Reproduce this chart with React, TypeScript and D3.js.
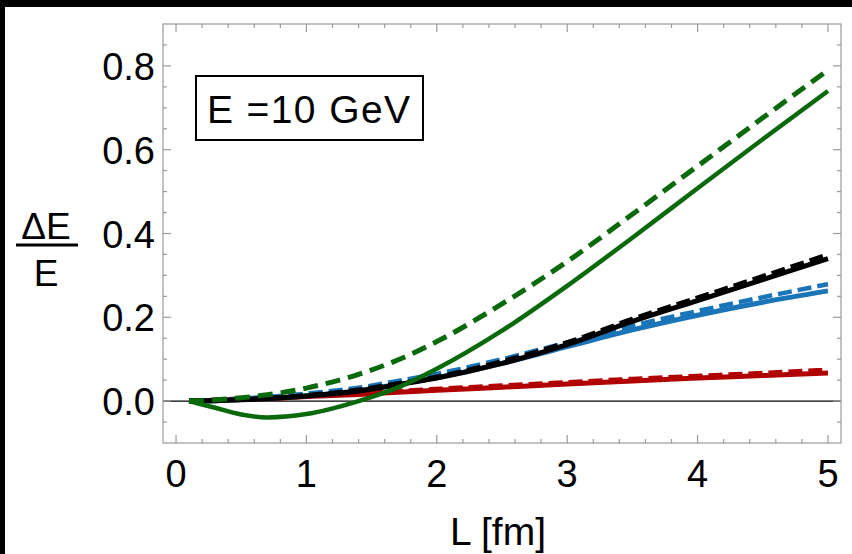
import React from "react";
import * as d3 from "d3";

const L = [0.1, 0.3, 0.5, 0.7, 1.0, 1.4, 1.7, 2.0, 2.5, 3.0, 3.5, 4.0, 4.5, 5.0];
const redSolid = [0, 0.002, 0.004, 0.006, 0.011, 0.016, 0.021, 0.026, 0.033, 0.041, 0.048, 0.055, 0.061, 0.067];
const redDashed = [0, 0.003, 0.006, 0.008, 0.013, 0.019, 0.024, 0.029, 0.037, 0.045, 0.053, 0.06, 0.067, 0.0746];
const blueSolid = [0, 0.001, 0.004, 0.007, 0.013, 0.025, 0.04, 0.056, 0.09, 0.13, 0.17, 0.205, 0.236, 0.263];
const blueDashed = [0, 0.002, 0.006, 0.01, 0.018, 0.032, 0.048, 0.065, 0.1, 0.14, 0.18, 0.215, 0.248, 0.279];
const blackSolid = [0, 0.001, 0.003, 0.006, 0.012, 0.024, 0.039, 0.055, 0.09, 0.135, 0.19, 0.24, 0.29, 0.34];
const blackDashed = [0, 0.002, 0.004, 0.007, 0.014, 0.027, 0.042, 0.058, 0.095, 0.14, 0.196, 0.247, 0.298, 0.35];
const greenSolid = [0, -0.016, -0.032, -0.039, -0.031, 0.0, 0.032, 0.077, 0.168, 0.275, 0.39, 0.508, 0.625, 0.74];
const greenDashed = [0, 0.003, 0.008, 0.015, 0.031, 0.064, 0.098, 0.142, 0.232, 0.333, 0.446, 0.561, 0.676, 0.79];

const xTicks = [0, 1, 2, 3, 4, 5];
const yTicks = [0.0, 0.2, 0.4, 0.6, 0.8];
const yTickLabels = ["0.0", "0.2", "0.4", "0.6", "0.8"];

const RED = "#b00000";
const BLUE = "#1a74b8";
const GREEN = "#0a690a";

export default function App() {
  const W = 852, H = 554;
  const left = 163, right = 841, top = 24, bottom = 443;
  const x = d3.scaleLinear().domain([-0.1, 5.1]).range([left, right]);
  const y = d3.scaleLinear().domain([-0.1, 0.9]).range([bottom, top]);
  const line = d3
    .line<number>()
    .x((_, i) => x(L[i]))
    .y((d) => y(d))
    .curve(d3.curveMonotoneX);

  const xMinor = d3.range(0, 5.1, 0.2).filter((v) => Math.abs(v - Math.round(v)) > 1e-6);
  const yMinor = d3.range(-0.05, 0.9, 0.05).filter((v) => Math.abs(v * 5 - Math.round(v * 5)) > 1e-6);

  const frameColor = "#9a9a9a";
  const font = "'Liberation Sans', Arial, sans-serif";

  const series = [
    { d: redSolid, c: RED, dash: null, w: 5 },
    { d: redDashed, c: RED, dash: "14,6", w: 4.5 },
    { d: blueSolid, c: BLUE, dash: null, w: 5 },
    { d: blueDashed, c: BLUE, dash: "14,6", w: 4.5 },
    { d: blackSolid, c: "#000", dash: null, w: 5 },
    { d: blackDashed, c: "#000", dash: "14,6", w: 4.5 },
    { d: greenSolid, c: GREEN, dash: null, w: 4.5 },
    { d: greenDashed, c: GREEN, dash: "15,8", w: 5 },
  ];

  return (
    <div style={{ position: "absolute", left: 0, top: 0 }}>
      <svg width={W} height={H} style={{ display: "block" }}>
        <rect x={0} y={0} width={W} height={H} fill="#fff" />
        <rect x={0} y={0} width={W} height={7} fill="#000" />
        <rect x={0} y={0} width={5} height={H} fill="#000" />

        <line x1={left} x2={right} y1={y(0)} y2={y(0)} stroke="#000" strokeWidth={1.2} />

        <defs>
          <clipPath id="plotclip">
            <rect x={left} y={top} width={right - left} height={bottom - top} />
          </clipPath>
        </defs>
        <g clipPath="url(#plotclip)">
          {series.map((s, i) => (
            <path
              key={i}
              d={line(s.d) || ""}
              fill="none"
              stroke={s.c}
              strokeWidth={s.w}
              strokeDasharray={s.dash || undefined}
              strokeLinejoin="round"
            />
          ))}
        </g>

        <rect x={left} y={top} width={right - left} height={bottom - top} fill="none" stroke={frameColor} strokeWidth={1.2} />

        {xTicks.map((t) => (
          <g key={"xt" + t}>
            <line x1={x(t)} x2={x(t)} y1={bottom} y2={bottom - 8} stroke={frameColor} strokeWidth={1.2} />
            <line x1={x(t)} x2={x(t)} y1={top} y2={top + 8} stroke={frameColor} strokeWidth={1.2} />
            <text x={x(t)} y={487} textAnchor="middle" fontFamily={font} fontSize={38} fill="#000">
              {t}
            </text>
          </g>
        ))}
        {xMinor.map((t, i) => (
          <g key={"xm" + i}>
            <line x1={x(t)} x2={x(t)} y1={bottom} y2={bottom - 4} stroke={frameColor} strokeWidth={1.2} />
            <line x1={x(t)} x2={x(t)} y1={top} y2={top + 4} stroke={frameColor} strokeWidth={1.2} />
          </g>
        ))}

        {yTicks.map((t, i) => (
          <g key={"yt" + i}>
            <line x1={left} x2={left + 8} y1={y(t)} y2={y(t)} stroke={frameColor} strokeWidth={1.2} />
            <line x1={right} x2={right - 8} y1={y(t)} y2={y(t)} stroke={frameColor} strokeWidth={1.2} />
            <text x={155} y={y(t) + 14} textAnchor="end" fontFamily={font} fontSize={38} fill="#000">
              {yTickLabels[i]}
            </text>
          </g>
        ))}
        {yMinor.map((t, i) => (
          <g key={"ym" + i}>
            <line x1={left} x2={left + 4} y1={y(t)} y2={y(t)} stroke={frameColor} strokeWidth={1.2} />
            <line x1={right} x2={right - 4} y1={y(t)} y2={y(t)} stroke={frameColor} strokeWidth={1.2} />
          </g>
        ))}

        <text x={498} y={545} textAnchor="middle" fontFamily={font} fontSize={39} fill="#000">
          L [fm]
        </text>
        <text x={46} y={239} textAnchor="middle" fontFamily={font} fontSize={37} fill="#000">
          ΔE
        </text>
        <line x1={16} x2={78} y1={245} y2={245} stroke="#000" strokeWidth={3} />
        <text x={46} y={286} textAnchor="middle" fontFamily={font} fontSize={37} fill="#000">
          E
        </text>

        <rect x={196} y={76} width={227} height={64} fill="#fff" stroke="#000" strokeWidth={2} />
        <text x={207} y={123} fontFamily={font} fontSize={39} fill="#000" textLength={203} lengthAdjust="spacing">
          E =10 GeV
        </text>
      </svg>
    </div>
  );
}
